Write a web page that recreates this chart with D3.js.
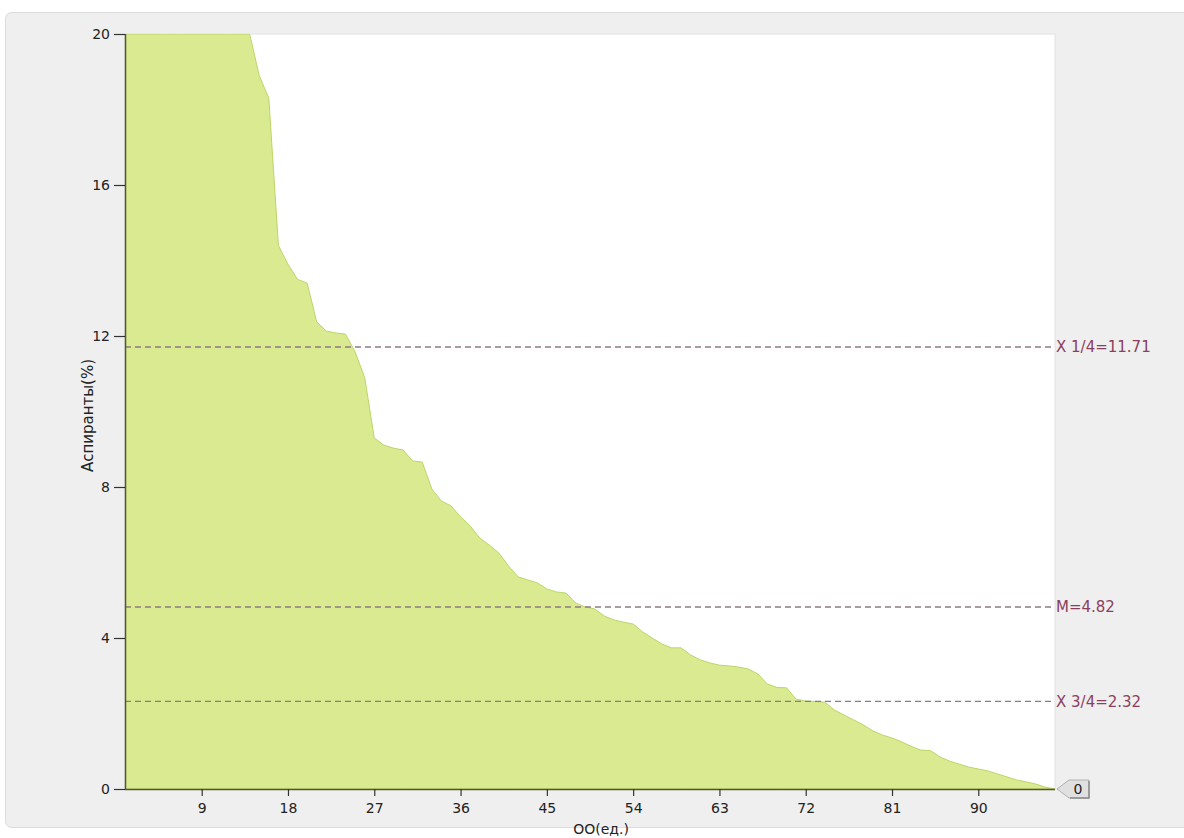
<!DOCTYPE html>
<html><head><meta charset="utf-8">
<script src="https://cdn.jsdelivr.net/npm/d3@7"></script>
<style>
html,body{margin:0;padding:0;background:#fff;}
svg{display:block;}
</style></head>
<body>
<svg id="chart" width="1184" height="838"></svg>
<script>
// ---- data ----
const xValues = d3.range(1, 99); // ОО index 1..98
const yValuesPct = [
  20,20,20,20,20,20,20,20,20,20,20,20,20,20,
  18.9,18.3,14.4,13.9,13.5,13.4,12.37,12.13,12.08,12.05,
  11.58,10.9,9.3,9.11,9.03,8.98,8.69,8.66,7.95,7.63,
  7.50,7.21,6.97,6.65,6.46,6.25,5.91,5.62,5.54,5.46,
  5.30,5.22,5.19,4.93,4.82,4.77,4.58,4.48,4.42,4.37,
  4.16,4.00,3.84,3.74,3.74,3.55,3.42,3.34,3.28,3.26,
  3.23,3.18,3.05,2.78,2.69,2.68,2.38,2.33,2.32,2.30,
  2.09,1.96,1.83,1.70,1.54,1.43,1.35,1.25,1.13,1.03,
  1.02,0.85,0.74,0.66,0.58,0.53,0.48,0.40,0.32,0.24,
  0.19,0.13,0.05,0
];
const xTicks = [9,18,27,36,45,54,63,72,81,90];
const yTicks = [0,4,8,12,16,20];
const refLines = [
  {label:"X 1/4=11.71", value:11.71},
  {label:"M=4.82", value:4.82},
  {label:"X 3/4=2.32", value:2.32}
];
const xTitle = "ОО(ед.)";
const yTitle = "Аспиранты(%)";
const endLabel = "0";

const data = xValues.map((x,i)=>({x, v:yValuesPct[i]}));

// ---- layout ----
const svg = d3.select("#chart");
const L = 125, R = 1055, T = 34, B = 789;
const font = "Tahoma, 'DejaVu Sans', Verdana, sans-serif";

// panel background
svg.append("rect").attr("x",5.5).attr("y",12.5).attr("width",1190).attr("height",815)
  .attr("rx",6).attr("fill","#efefef").attr("stroke","#dcdcdc");

const x = d3.scaleLinear().domain([1,98]).range([L,R]);
const y = d3.scaleLinear().domain([0,20]).range([B,T]);

// plot area
svg.append("rect").attr("x",L).attr("y",T).attr("width",R-L).attr("height",B-T)
  .attr("fill","#ffffff").attr("stroke","#e2e2e2");

svg.append("clipPath").attr("id","clip").append("rect")
  .attr("x",L).attr("y",T).attr("width",R-L).attr("height",B-T);

const area = d3.area().x(d=>x(d.x)).y0(y(0)).y1(d=>y(Math.min(d.v,20)));
svg.append("path").datum(data).attr("clip-path","url(#clip)")
  .attr("d",area).attr("fill","#d9ea90")
  .attr("stroke","#bcd66a").attr("stroke-width",1);

// reference lines
const rl = svg.append("g");
refLines.forEach(r=>{
  rl.append("line").attr("x1",L).attr("x2",R).attr("y1",y(r.value)).attr("y2",y(r.value))
    .attr("stroke","#8c7b84").attr("stroke-width",1.4).attr("stroke-dasharray","6,4");
  rl.append("text").attr("x",R+1).attr("y",y(r.value)).attr("dy","0.35em")
    .attr("font-family",font).attr("font-size",15).attr("fill","#8b3f5e").text(r.label);
});

// axes
const yAxis = svg.append("g").attr("transform",`translate(${L},0)`)
  .call(d3.axisLeft(y).tickValues(yTicks).tickSize(11).tickPadding(4).tickFormat(d3.format("d")));
const xAxis = svg.append("g").attr("transform",`translate(0,${B})`)
  .call(d3.axisBottom(x).tickValues(xTicks).tickSize(7).tickPadding(7).tickFormat(d3.format("d")));
[yAxis,xAxis].forEach(a=>{
  a.select(".domain").attr("stroke","#555533").attr("stroke-width",1.5);
  a.selectAll(".tick line").attr("stroke","#333").attr("stroke-width",1.2);
  a.selectAll(".tick text").attr("font-family",font).attr("font-size",14).attr("fill","#222");
});
xAxis.select(".domain").attr("d",`M${L},0.5H${R}`);
yAxis.select(".domain").attr("d",`M0.5,${B}V${T}`);

// axis titles
svg.append("text").attr("x",(L+R)/2+11).attr("y",834).attr("text-anchor","middle")
  .attr("font-family",font).attr("font-size",14).attr("fill","#222").text(xTitle);
svg.append("text").attr("transform",`translate(93,${(T+B)/2+4}) rotate(-90)`)
  .attr("text-anchor","middle").attr("font-family",font).attr("font-size",15)
  .attr("fill","#222").text(yTitle);

// end value callout
const last = data[data.length-1];
const cx = x(last.x), cy = y(last.v);
const cg = svg.append("g").attr("transform",`translate(${cx},${cy})`);
cg.append("path").attr("d","M2,0 L14,-9 H34 V9 H14 Z").attr("fill","#e0e0e0")
  .attr("stroke","#b0b0b0").attr("stroke-width",1);
cg.append("path").attr("d","M34,-8 V9 H15").attr("fill","none").attr("stroke","#8a8a8a").attr("stroke-width",1.5);
cg.append("text").attr("x",23).attr("y",0).attr("dy","0.35em").attr("text-anchor","middle")
  .attr("font-family",font).attr("font-size",14).attr("fill","#222").text(endLabel);
</script>
</body></html>
